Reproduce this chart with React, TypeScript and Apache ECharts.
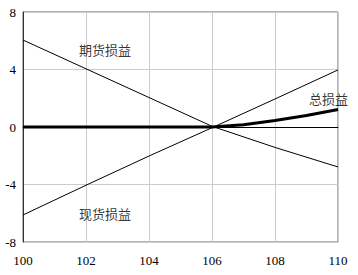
import React, { useEffect, useRef } from "react";
import * as echarts from "echarts";

const xTicks = [100, 102, 104, 106, 108, 110];
const futuresX = [100, 102, 104, 106, 108, 110];
const futuresY = [6.05, 4.05, 2.05, 0.05, -1.42, -2.78];
const spotX = [100, 102, 104, 106, 108, 110];
const spotY = [-6.12, -4.05, -2.02, -0.05, 1.95, 3.97];
const totalX = [100, 102, 104, 106, 107, 108, 109, 110];
const totalY = [0, 0, 0, 0, 0.15, 0.45, 0.8, 1.22];
const labels = [
  { name: "期货损益", x: 102.6, y: 5.4 },
  { name: "现货损益", x: 102.6, y: -6.05 },
  { name: "总损益", x: 109.7, y: 1.95 },
];

const zip = (xs: number[], ys: number[]) => xs.map((x, i) => [x, ys[i]]);

export default function App() {
  const ref = useRef<HTMLDivElement>(null);
  useEffect(() => {
    const chart = echarts.init(ref.current!, null, { renderer: "svg" });
    const serif = "'Liberation Serif', 'DejaVu Serif', serif";
    chart.setOption({
      animation: false,
      backgroundColor: "#fff",
      grid: {
        left: 23,
        right: 20,
        top: 12,
        bottom: 33,
        show: true,
        borderColor: "#666",
        borderWidth: 1,
      },
      xAxis: {
        type: "value",
        min: 100,
        max: 110,
        interval: 2,
        axisLine: { show: true, lineStyle: { color: "#333" } },
        axisTick: { show: false },
        axisLabel: { color: "#000", fontFamily: serif, fontSize: 13, margin: 12 },
        splitLine: { show: true, lineStyle: { color: "#ccc" } },
      },
      yAxis: {
        type: "value",
        min: -8,
        max: 8,
        interval: 4,
        axisLine: { show: true, lineStyle: { color: "#333" } },
        axisTick: { show: false },
        axisLabel: { color: "#000", fontFamily: serif, fontSize: 13, margin: 7 },
        splitLine: { show: true, lineStyle: { color: "#ccc" } },
      },
      series: [
        {
          type: "line",
          data: zip(futuresX, futuresY),
          symbol: "none",
          lineStyle: { color: "#000", width: 1 },
          markLine: {
            silent: true,
            symbol: "none",
            label: { show: false },
            lineStyle: { color: "#000", width: 1, type: "solid" },
            data: [{ yAxis: 0 }],
          },
        },
        {
          type: "line",
          data: zip(spotX, spotY),
          symbol: "none",
          lineStyle: { color: "#000", width: 1 },
        },
        {
          type: "line",
          data: zip(totalX, totalY),
          symbol: "none",
          lineStyle: { color: "#000", width: 3 },
        },
        {
          type: "scatter",
          data: labels.map((l) => ({ value: [l.x, l.y], name: l.name })),
          symbolSize: 0,
          label: {
            show: true,
            position: "inside",
            formatter: (p: any) => p.name,
            color: "#000",
            fontSize: 13,
            fontFamily: "'Noto Sans CJK SC', sans-serif",
          },
        },
      ],
    });
    return () => chart.dispose();
  }, []);
  return (
    <div
      ref={ref}
      style={{ position: "fixed", left: 0, top: 0, width: 358, height: 275 }}
    />
  );
}
